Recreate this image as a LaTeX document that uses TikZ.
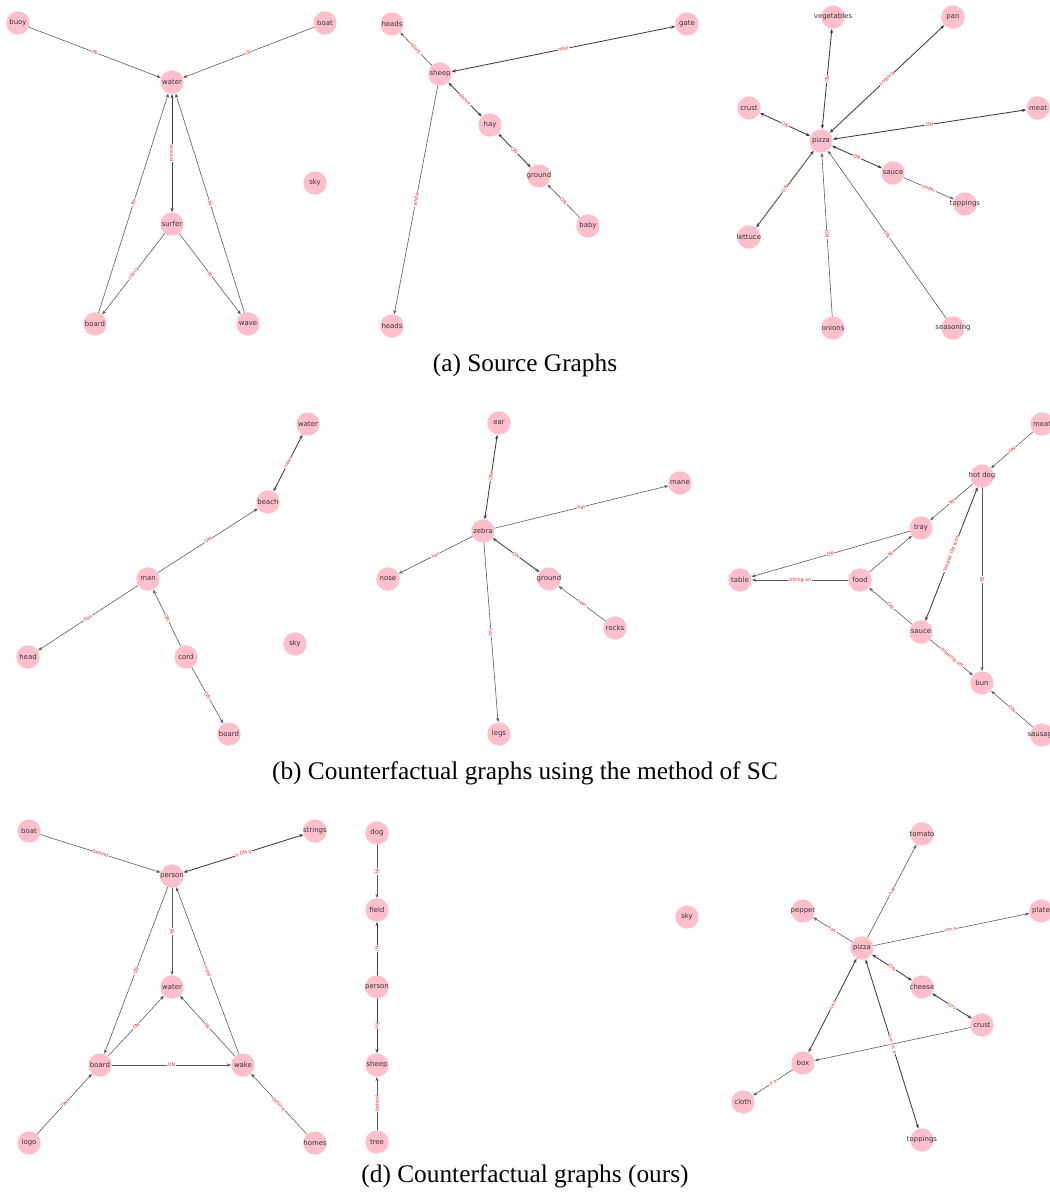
\documentclass[tikz,border=0pt]{standalone}
\usepackage{fontspec}
\setmainfont{Liberation Serif}
\newfontfamily\nxfont{DejaVu Sans}
\usepackage{tikz}
\usetikzlibrary{arrows.meta}
\definecolor{nodepink}{RGB}{255,192,203}
\definecolor{edgegray}{RGB}{90,90,90}
\definecolor{relred}{RGB}{255,40,40}

\begin{document}
\begin{tikzpicture}[x=0.75pt,y=-0.75pt,line cap=round,line join=round,
  ent/.style={circle,fill=nodepink,minimum size=17.5pt,inner sep=0pt,
    label={[text=black!80,font=\nxfont\fontsize{5.2}{6}\selectfont]center:#1}},
  rel/.style={draw=edgegray,line width=0.45pt,-{Stealth[length=3.2pt,width=2.4pt]}},
  birel/.style={draw=black!75,line width=0.65pt,
    {Stealth[length=3.2pt,width=2.4pt]}-{Stealth[length=3.2pt,width=2.4pt]}},
  lbl/.style={midway,sloped,fill=white,inner sep=0.4pt,text=relred,
    font=\nxfont\fontsize{3.6}{4}\selectfont},
  caption/.style={font=\fontsize{19}{22}\selectfont}]
  \useasboundingbox (0,0) rectangle (1050,1193);

  % (a) source graphs
  \node[ent=buoy] (a1Buoy) at (18,23) {};
  \node[ent=boat] (a1Boat) at (325,23) {};
  \node[ent=water] (a1Water) at (172,82) {};
  \node[ent=sky] (a1Sky) at (315,183) {};
  \node[ent=surfer] (a1Surfer) at (172,224) {};
  \node[ent=board] (a1Board) at (95,324) {};
  \node[ent=wave] (a1Wave) at (248,324) {};
  \draw[rel] (a1Buoy) -- (a1Water) node[lbl] {IN};
  \draw[rel] (a1Boat) -- (a1Water) node[lbl] {IN};
  \draw[birel] (a1Water) -- (a1Surfer) node[lbl] {around};
  \draw[rel] (a1Board) -- (a1Water) node[lbl] {IN};
  \draw[rel] (a1Wave) -- (a1Water) node[lbl] {IN};
  \draw[rel] (a1Surfer) -- (a1Board) node[lbl] {riding};
  \draw[rel] (a1Surfer) -- (a1Wave) node[lbl] {IN};

  \node[ent=heads] (a2HeadsT) at (392,24) {};
  \node[ent=gate] (a2Gate) at (687,24) {};
  \node[ent=sheep] (a2Sheep) at (440,74) {};
  \node[ent=hay] (a2Hay) at (490,125) {};
  \node[ent=ground] (a2Ground) at (539,176) {};
  \node[ent=baby] (a2Baby) at (588,226) {};
  \node[ent=heads] (a2HeadsB) at (392,326) {};
  \draw[rel] (a2Sheep) -- (a2HeadsT) node[lbl] {black};
  \draw[birel] (a2Sheep) -- (a2Gate) node[lbl] {near};
  \draw[birel] (a2Sheep) -- (a2Hay) node[lbl] {above};
  \draw[birel] (a2Hay) -- (a2Ground) node[lbl] {ON};
  \draw[rel] (a2Baby) -- (a2Ground) node[lbl] {ON};
  \draw[rel] (a2Sheep) -- (a2HeadsB) node[lbl] {white};

  \node[ent=vegetables] (a3Veg) at (833,17) {};
  \node[ent=pan] (a3Pan) at (953,17) {};
  \node[ent=crust] (a3Crust) at (749,108) {};
  \node[ent=meat] (a3Meat) at (1038,108) {};
  \node[ent=pizza] (a3Pizza) at (821,141) {};
  \node[ent=sauce] (a3Sauce) at (893,173) {};
  \node[ent=toppings] (a3Top) at (965,204) {};
  \node[ent=lettuce] (a3Lettuce) at (749,237) {};
  \node[ent=onions] (a3Onions) at (833,328) {};
  \node[ent=seasoning] (a3Season) at (953,328) {};
  \draw[birel] (a3Pizza) -- (a3Veg) node[lbl] {ON};
  \draw[birel] (a3Pizza) -- (a3Pan) node[lbl] {holding};
  \draw[birel] (a3Crust) -- (a3Pizza) node[lbl] {ON};
  \draw[birel] (a3Pizza) -- (a3Meat) node[lbl] {ON};
  \draw[birel] (a3Pizza) -- (a3Sauce) node[lbl] {ON};
  \draw[rel] (a3Sauce) -- (a3Top) node[lbl] {under};
  \draw[birel] (a3Pizza) -- (a3Lettuce) node[lbl] {ON};
  \draw[rel] (a3Onions) -- (a3Pizza) node[lbl] {ON};
  \draw[rel] (a3Season) -- (a3Pizza) node[lbl] {ON};

  \node[caption] (capA) at (525,365) {(a) Source Graphs};

  % (b) counterfactual graphs, SC
  \node[ent=water] (b1Water) at (308,424) {};
  \node[ent=beach] (b1Beach) at (268,502) {};
  \node[ent=man] (b1Man) at (148,579) {};
  \node[ent=head] (b1Head) at (28,657) {};
  \node[ent=cord] (b1Cord) at (186,657) {};
  \node[ent=sky] (b1Sky) at (295,644) {};
  \node[ent=board] (b1Board) at (229,734) {};
  \draw[birel] (b1Beach) -- (b1Water) node[lbl] {near};
  \draw[rel] (b1Man) -- (b1Beach) node[lbl] {ON};
  \draw[rel] (b1Man) -- (b1Head) node[lbl] {has};
  \draw[rel] (b1Cord) -- (b1Man) node[lbl] {ON};
  \draw[rel] (b1Cord) -- (b1Board) node[lbl] {ON};

  \node[ent=ear] (b2Ear) at (499,423) {};
  \node[ent=mane] (b2Mane) at (680,483) {};
  \node[ent=zebra] (b2Zebra) at (483,531) {};
  \node[ent=nose] (b2Nose) at (388,579) {};
  \node[ent=ground] (b2Ground) at (549,579) {};
  \node[ent=rocks] (b2Rocks) at (615,628) {};
  \node[ent=legs] (b2Legs) at (499,734) {};
  \draw[birel] (b2Zebra) -- (b2Ear) node[lbl] {ON};
  \draw[rel] (b2Zebra) -- (b2Mane) node[lbl] {has};
  \draw[rel] (b2Zebra) -- (b2Nose) node[lbl] {has};
  \draw[birel] (b2Zebra) -- (b2Ground) node[lbl] {ON};
  \draw[rel] (b2Rocks) -- (b2Ground) node[lbl] {near};
  \draw[rel] (b2Zebra) -- (b2Legs) node[lbl] {has};

  \node[ent=meat] (b3Meat) at (1042,424) {};
  \node[ent=hot dog] (b3Hotdog) at (982,476) {};
  \node[ent=tray] (b3Tray) at (921,528) {};
  \node[ent=table] (b3Table) at (740,580) {};
  \node[ent=food] (b3Food) at (860,580) {};
  \node[ent=sauce] (b3Sauce) at (921,632) {};
  \node[ent=bun] (b3Bun) at (982,683) {};
  \node[ent=sausage] (b3Sausage) at (1042,735) {};
  \draw[rel] (b3Meat) -- (b3Hotdog) node[lbl] {ON};
  \draw[rel] (b3Hotdog) -- (b3Tray) node[lbl] {IN};
  \draw[rel] (b3Tray) -- (b3Table) node[lbl] {ON};
  \draw[rel] (b3Food) -- (b3Table) node[lbl] {sitting on};
  \draw[rel] (b3Food) -- (b3Tray) node[lbl] {IN};
  \draw[birel] (b3Hotdog) -- (b3Sauce) node[lbl] {topped ON with};
  \draw[rel] (b3Sauce) -- (b3Food) node[lbl] {ON};
  \draw[rel] (b3Sauce) -- (b3Bun) node[lbl] {dripping off};
  \draw[rel] (b3Hotdog) -- (b3Bun) node[lbl] {IN};
  \draw[rel] (b3Sausage) -- (b3Bun) node[lbl] {ON};

  \node[caption] (capB) at (525,773) {(b) Counterfactual graphs using the method of SC};

  % (d) counterfactual graphs, ours
  \node[ent=boat] (d1Boat) at (29,831) {};
  \node[ent=strings] (d1Strings) at (315,831) {};
  \node[ent=person] (d1Person) at (172,876) {};
  \node[ent=water] (d1Water) at (172,987) {};
  \node[ent=board] (d1Board) at (100,1065) {};
  \node[ent=wake] (d1Wake) at (243,1065) {};
  \node[ent=logo] (d1Logo) at (29,1143) {};
  \node[ent=homes] (d1Homes) at (315,1143) {};
  \draw[rel] (d1Boat) -- (d1Person) node[lbl] {behind};
  \draw[birel] (d1Person) -- (d1Strings) node[lbl] {h ON g};
  \draw[rel] (d1Person) -- (d1Water) node[lbl] {IN};
  \draw[rel] (d1Person) -- (d1Board) node[lbl] {ON};
  \draw[rel] (d1Wake) -- (d1Person) node[lbl] {under};
  \draw[rel] (d1Board) -- (d1Water) node[lbl] {ON};
  \draw[rel] (d1Wake) -- (d1Water) node[lbl] {IN};
  \draw[rel] (d1Board) -- (d1Wake) node[lbl] {ON};
  \draw[rel] (d1Logo) -- (d1Board) node[lbl] {ON};
  \draw[rel] (d1Homes) -- (d1Wake) node[lbl] {behind};

  \node[ent=dog] (d2Dog) at (377,833) {};
  \node[ent=field] (d2Field) at (377,910) {};
  \node[ent=person] (d2Person) at (377,987) {};
  \node[ent=sheep] (d2Sheep) at (377,1065) {};
  \node[ent=tree] (d2Tree) at (377,1142) {};
  \node[ent=sky] (d2Sky) at (687,917) {};
  \draw[rel] (d2Dog) -- (d2Field) node[lbl] {IN};
  \draw[rel,draw=black!75,line width=0.65pt] (d2Person) -- (d2Field) node[lbl] {IN};
  \draw[rel,draw=black!75,line width=0.65pt] (d2Person) -- (d2Sheep) node[lbl] {by};
  \draw[rel] (d2Tree) -- (d2Sheep) node[lbl] {behind};

  \node[ent=tomato] (d3Tomato) at (922,834) {};
  \node[ent=pepper] (d3Pepper) at (803,911) {};
  \node[ent=plate] (d3Plate) at (1041,911) {};
  \node[ent=pizza] (d3Pizza) at (862,948) {};
  \node[ent=cheese] (d3Cheese) at (922,987) {};
  \node[ent=crust] (d3Crust) at (982,1025) {};
  \node[ent=box] (d3Box) at (803,1063) {};
  \node[ent=cloth] (d3Cloth) at (743,1102) {};
  \node[ent=toppings] (d3Top) at (922,1140) {};
  \draw[rel] (d3Pizza) -- (d3Tomato) node[lbl] {has};
  \draw[rel] (d3Pizza) -- (d3Pepper) node[lbl] {has};
  \draw[rel] (d3Pizza) -- (d3Plate) node[lbl] {on a};
  \draw[birel] (d3Pizza) -- (d3Cheese) node[lbl] {ON};
  \draw[birel] (d3Cheese) -- (d3Crust) node[lbl] {has};
  \draw[birel] (d3Pizza) -- (d3Box) node[lbl] {has};
  \draw[rel] (d3Crust) -- (d3Box);
  \draw[birel] (d3Pizza) -- (d3Top) node[lbl] {are on a};
  \draw[rel] (d3Box) -- (d3Cloth) node[lbl] {o a};

  \node[caption] (capD) at (525,1176) {(d) Counterfactual graphs (ours)};
\end{tikzpicture}
\end{document}
